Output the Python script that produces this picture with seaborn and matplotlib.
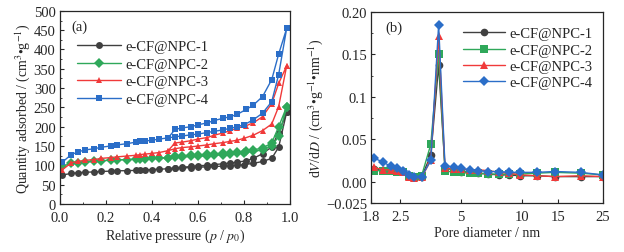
import numpy as np
import pandas as pd
import matplotlib
matplotlib.use("Agg")
import matplotlib.pyplot as plt
import seaborn as sns
from matplotlib.ticker import MultipleLocator, NullLocator

# ===================== data =====================
samples = ["e-CF@NPC-1", "e-CF@NPC-2", "e-CF@NPC-3", "e-CF@NPC-4"]

# (a) N2 isotherms, adsorption branch then desorption branch
p_ads = [0.01, 0.05, 0.08, 0.11, 0.15, 0.18, 0.22, 0.25, 0.29, 0.33, 0.35, 0.37, 0.40, 0.43, 0.47,
         0.50, 0.53, 0.57, 0.60, 0.64, 0.67, 0.71, 0.74, 0.77, 0.80, 0.84, 0.88, 0.92, 0.95, 0.985]
p_des = [0.985, 0.95, 0.92, 0.88, 0.84, 0.81, 0.77, 0.74, 0.71, 0.67, 0.64, 0.60, 0.57, 0.53, 0.50, 0.47]

q_ads_1 = [75, 79, 81, 82, 83, 84, 85, 86, 86, 87, 88, 88, 89, 90, 91,
           92, 93, 94, 95, 96, 97, 98, 99, 100, 102, 105, 110, 118, 147, 238]
q_des_1 = [238, 185, 148, 130, 118, 112, 108, 106, 104, 102, 100, 99, 97, 95, 93, 91]
q_ads_2 = [98, 105, 107, 109, 110, 112, 113, 114, 115, 116, 117, 117, 118, 119, 120,
           121, 122, 123, 124, 125, 126, 128, 130, 131, 133, 136, 140, 150, 175, 250]
q_des_2 = [252, 200, 158, 145, 140, 137, 134, 133, 131, 130, 129, 127, 126, 125, 123, 120]
q_ads_3 = [88, 107, 110, 113, 115, 118, 120, 122, 124, 126, 128, 129, 131, 133, 138,
           143, 146, 148, 150, 153, 156, 159, 162, 165, 170, 178, 190, 207, 252, 358]
q_des_3 = [358, 312, 260, 226, 210, 203, 196, 190, 184, 178, 172, 168, 164, 160, 158, 138]
q_ads_4 = [108, 128, 135, 140, 143, 147, 150, 153, 156, 160, 162, 163, 165, 168, 171,
           174, 176, 179, 181, 185, 188, 192, 196, 200, 205, 218, 235, 265, 335, 455]
q_des_4 = [455, 388, 322, 278, 256, 245, 232, 226, 222, 216, 210, 205, 200, 197, 193, 171]

# (b) BJH pore size distribution
d_pore = [1.85, 2.06, 2.25, 2.41, 2.59, 2.77, 2.91, 3.19, 3.54, 3.87, 4.16, 4.59, 5.0,
          5.5, 6.07, 6.8, 7.69, 8.58, 9.77, 11.8, 14.5, 19.5, 25.0]
dv_1 = [0.015, 0.014, 0.014, 0.013, 0.013, 0.008, 0.005, 0.006, 0.031, 0.137, 0.016, 0.014, 0.012,
        0.011, 0.010, 0.009, 0.008, 0.008, 0.007, 0.007, 0.006, 0.006, 0.006]
dv_2 = [0.013, 0.013, 0.013, 0.012, 0.011, 0.007, 0.005, 0.007, 0.044, 0.151, 0.013, 0.011, 0.011,
        0.010, 0.010, 0.009, 0.009, 0.009, 0.009, 0.010, 0.011, 0.010, 0.008]
dv_3 = [0.017, 0.014, 0.014, 0.013, 0.011, 0.006, 0.004, 0.005, 0.025, 0.172, 0.016, 0.015, 0.015,
        0.014, 0.014, 0.013, 0.011, 0.010, 0.008, 0.007, 0.006, 0.007, 0.006]
dv_4 = [0.028, 0.023, 0.018, 0.016, 0.013, 0.008, 0.006, 0.006, 0.025, 0.185, 0.019, 0.017, 0.016,
        0.014, 0.013, 0.012, 0.012, 0.011, 0.011, 0.011, 0.012, 0.011, 0.008]

colors = ["#404040", "#2fa85a", "#f03a3a", "#2b6ec8"]
markers_a = ["o", "D", "^", "s"]
markers_b = ["o", "s", "^", "D"]

iso = pd.concat([
    pd.DataFrame({"P": p_ads + p_des, "Q": qa + qd, "sample": s})
    for s, qa, qd in zip(samples, [q_ads_1, q_ads_2, q_ads_3, q_ads_4],
                         [q_des_1, q_des_2, q_des_3, q_des_4])
], ignore_index=True)
psd = pd.concat([
    pd.DataFrame({"D": d_pore, "dV": v, "sample": s})
    for s, v in zip(samples, [dv_1, dv_2, dv_3, dv_4])
], ignore_index=True)

# ===================== plotting =====================
sns.set_style("ticks")
plt.rcParams["font.family"] = ["Liberation Serif", "DejaVu Serif"]
plt.rcParams["mathtext.fontset"] = "stix"
plt.rcParams["xtick.direction"] = "in"
plt.rcParams["ytick.direction"] = "in"
plt.rcParams["axes.linewidth"] = 0.9

fig = plt.figure(figsize=(6.24, 2.53), dpi=100)
ax1 = fig.add_axes([0.096, 0.190, 0.369, 0.763])
ax2 = fig.add_axes([0.595, 0.194, 0.371, 0.755])

# A isotherms
for s, c, m in zip(samples, colors, markers_a):
    sub = iso[iso["sample"] == s]
    sns.lineplot(data=sub, x="P", y="Q", sort=False, estimator=None, color=c, marker=m,
                 markersize=5, markeredgewidth=0, linewidth=1, label=s, ax=ax1)
ax1.set_xlim(0, 1.0)
ax1.set_ylim(0, 500)
ax1.xaxis.set_major_locator(MultipleLocator(0.2))
ax1.xaxis.set_minor_locator(MultipleLocator(0.1))
ax1.yaxis.set_major_locator(MultipleLocator(50))
ax1.yaxis.set_minor_locator(MultipleLocator(25))
ax1.tick_params(which="major", length=3, labelsize=10.5)
ax1.tick_params(axis="x", pad=5)
ax1.tick_params(axis="y", pad=3)
ax1.tick_params(which="minor", length=1.5)
ax1.set_xlabel("Relative pressure ($p$ / $p_0$)", fontsize=10, labelpad=2)
ax1.set_ylabel("Quantity adsorbed / (cm$^3$•g$^{-1}$)", fontsize=10, labelpad=1)
ax1.text(0.05, 0.92, "(a)", transform=ax1.transAxes, fontsize=10.5, va="center")
ax1.legend(loc="upper left", bbox_to_anchor=(0.05, 0.88), frameon=False, fontsize=10.5,
           handlelength=3.0, handletextpad=0.3, labelspacing=0.3, borderaxespad=0)

# B pore size distribution
for s, c, m in zip(samples, colors, markers_b):
    sub = psd[psd["sample"] == s]
    sns.lineplot(data=sub, x="D", y="dV", sort=False, estimator=None, color=c, marker=m,
                 markersize=5.5, markeredgewidth=0, linewidth=1, label=s, ax=ax2)
ax2.set_xscale("log")
ax2.set_xlim(1.8, 25)
ax2.set_xticks([1.8, 2.5, 5, 10, 15, 25], ["1.8", "2.5", "5", "10", "15", "25"])
ax2.xaxis.set_minor_locator(NullLocator())
ax2.set_ylim(-0.025, 0.20)
ax2.set_yticks([-0.025, 0.0, 0.05, 0.1, 0.15, 0.20],
               ["\u22120.025", "0.00", "0.05", "0.1", "0.15", "0.20"])
ax2.yaxis.set_minor_locator(MultipleLocator(0.025))
ax2.tick_params(which="major", length=3, labelsize=10.5)
ax2.tick_params(axis="x", pad=5)
ax2.tick_params(axis="y", pad=3)
ax2.tick_params(which="minor", length=1.5)
ax2.set_xlabel("Pore diameter / nm", fontsize=10, labelpad=2)
ax2.set_ylabel("d$V$/d$D$ / (cm$^3$•g$^{-1}$•nm$^{-1}$)", fontsize=10, labelpad=1)
ax2.text(0.06, 0.92, "(b)", transform=ax2.transAxes, fontsize=10.5, va="center")
ax2.legend(loc="upper right", bbox_to_anchor=(0.98, 0.95), frameon=False, fontsize=10.5,
           handlelength=2.9, handletextpad=0.3, labelspacing=0.2, borderaxespad=0)

fig.savefig("out.png", dpi=100)
